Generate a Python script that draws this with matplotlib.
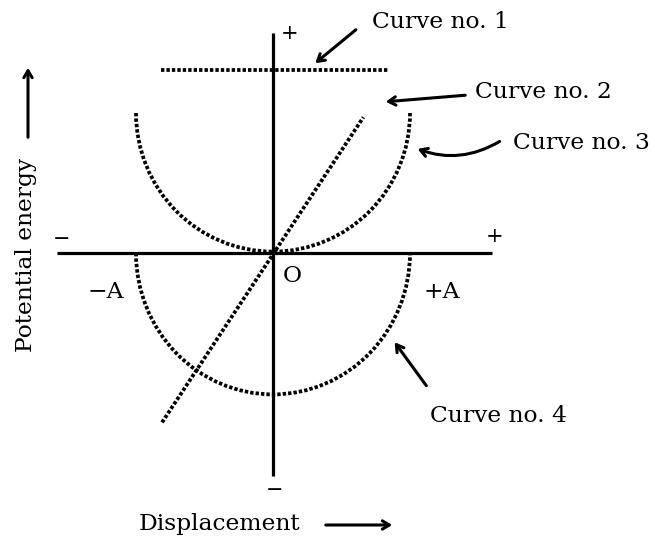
import numpy as np
import matplotlib
matplotlib.use("Agg")
import matplotlib.pyplot as plt
from matplotlib.patches import Arc

# data (unit = amplitude A)
amp = 1.0
curve1_x = [-0.82, 0.84]
curve1_y = [1.31, 1.31]
curve2_x = [-0.81, 0.66]
curve2_y = [-1.21, 0.97]
curve3_center = (0.0, 1.0)   # upper curve, vertex at origin
curve3_r = (1.0, 0.99)
curve4_center = (0.0, 0.0)
curve4_r = (1.0, 1.01)
axis_x = [-1.58, 1.60]
axis_y = [-1.59, 1.57]

sx, sy = 137.0, 140.0   # pixels per unit
ox, oy = 273.0, 253.0   # origin in pixels

def P(px, py):
    return ((px - ox) / sx, (oy - py) / sy)

plt.rcParams['font.family'] = ['DejaVu Serif']
fig = plt.figure(figsize=(6.55, 5.45), dpi=100)
ax = fig.add_axes([0, 0, 1, 1])
ax.set_xlim(-ox / sx, (655 - ox) / sx)
ax.set_ylim(-(545 - oy) / sy, oy / sy)
ax.axis('off')

# axes
ax.plot(axis_x, [0, 0], color='black', lw=2.3, solid_capstyle='butt')
ax.plot([0, 0], axis_y, color='black', lw=2.3, solid_capstyle='butt')

dots = (0, (0.9, 0.55))
lw = 2.7
ax.plot(curve1_x, curve1_y, color='black', lw=lw, linestyle=dots)
ax.plot(curve2_x, curve2_y, color='black', lw=lw, linestyle=dots)
ax.add_patch(Arc(curve3_center, 2 * curve3_r[0] * amp, 2 * curve3_r[1] * amp,
                 theta1=180, theta2=360, color='black', lw=lw, linestyle=dots))
ax.add_patch(Arc(curve4_center, 2 * curve4_r[0] * amp, 2 * curve4_r[1] * amp,
                 theta1=180, theta2=360, color='black', lw=lw, linestyle=dots))

fs = 16.8
# signs and labels
ax.text(*P(290, 33), '+', fontsize=15, ha='center', va='center')
ax.text(*P(275, 491), '\u2212', fontsize=15, ha='center', va='center')
ax.text(*P(62, 239), '\u2212', fontsize=15, ha='center', va='center')
ax.text(*P(495, 236), '+', fontsize=15, ha='center', va='center')
ax.text(*P(106, 292), '\u2212A', fontsize=fs, ha='center', va='center')
ax.text(*P(442, 292), '+A', fontsize=fs, ha='center', va='center')
ax.text(*P(292, 276), 'O', fontsize=fs, ha='center', va='center')

aprops = dict(arrowstyle='->,head_length=0.5,head_width=0.3', color='black', lw=2.2)
ax.text(*P(372, 22), 'Curve no. 1', fontsize=fs, ha='left', va='center')
ax.annotate('', xy=P(313, 65), xytext=P(358, 28), arrowprops=aprops)
ax.text(*P(475, 92), 'Curve no. 2', fontsize=fs, ha='left', va='center')
ax.annotate('', xy=P(383, 102), xytext=P(468, 95), arrowprops=aprops)
ax.text(*P(513, 143), 'Curve no. 3', fontsize=fs, ha='left', va='center')
ax.annotate('', xy=P(415, 148), xytext=P(502, 140),
            arrowprops=dict(aprops, connectionstyle='arc3,rad=-0.25'))
ax.text(*P(430, 416), 'Curve no. 4', fontsize=fs, ha='left', va='center')
ax.annotate('', xy=P(393, 340), xytext=P(428, 388), arrowprops=aprops)

ax.text(*P(219, 524), 'Displacement', fontsize=fs, ha='center', va='center')
ax.annotate('', xy=P(395, 525), xytext=P(323, 525), arrowprops=aprops)
ax.text(*P(26, 255), 'Potential energy', fontsize=fs, ha='center', va='center',
        rotation=90)
ax.annotate('', xy=P(28, 65), xytext=P(28, 140), arrowprops=aprops)

fig.savefig('out.png', dpi=100, facecolor='white')
